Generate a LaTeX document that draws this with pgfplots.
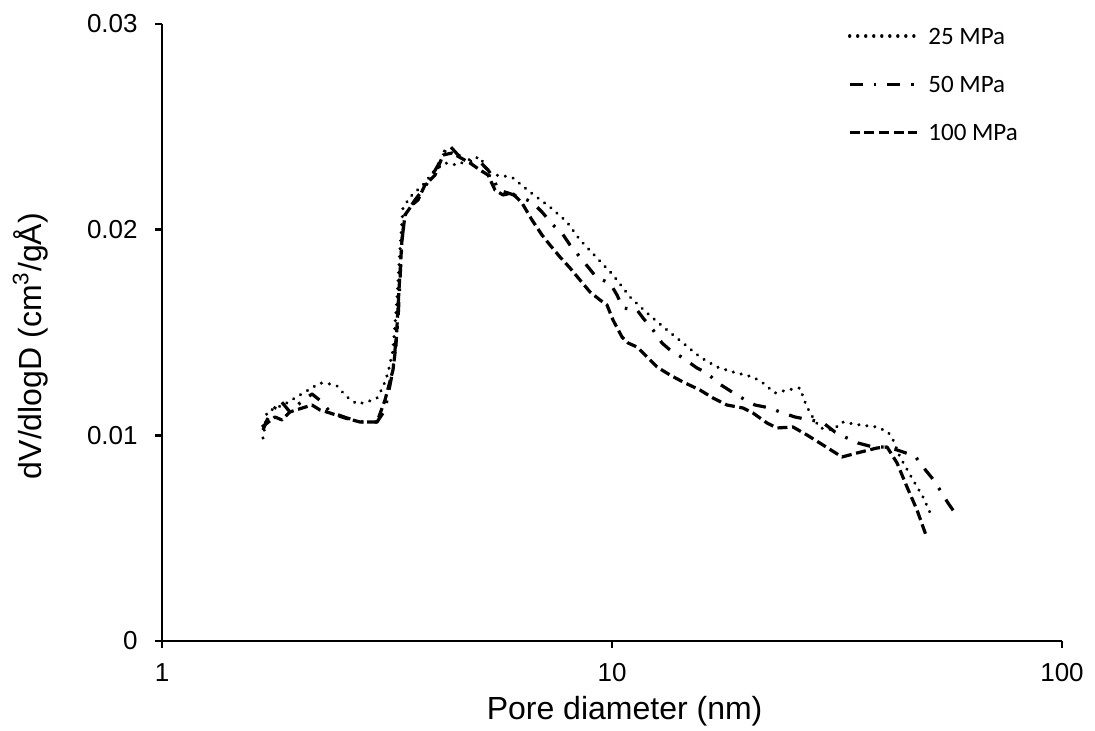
\documentclass[border=0pt]{standalone}
\usepackage{fontspec}
\setmainfont{Liberation Sans}
\newfontfamily\calibri{Carlito}
\usepackage{pgfplots}
\usepackage{pgfplotstable}
\pgfplotsset{compat=1.18}

\pgfplotstableread{
d v
1.6767 0.009870
1.7113 0.011135
1.8764 0.011524
2.0261 0.011961
2.2444 0.012545
2.3623 0.012496
2.4484 0.012399
2.5771 0.011864
2.7126 0.011524
2.8547 0.011621
3.0047 0.011815
3.0983 0.012350
3.1785 0.013031
3.2609 0.014149
3.3282 0.016580
3.3797 0.019011
3.4320 0.021053
3.5572 0.021588
3.8019 0.022172
4.0437 0.022901
4.2563 0.023241
4.5259 0.023144
4.7863 0.023387
5.0897 0.023533
5.2481 0.022998
5.3566 0.022609
5.6380 0.022658
6.0256 0.022512
6.5733 0.021831
7.2817 0.021102
7.9433 0.020373
8.4885 0.019498
9.2612 0.018622
10.051 0.017796
10.965 0.016726
11.962 0.015948
13.250 0.015122
14.382 0.014490
15.686 0.013809
17.113 0.013323
18.572 0.013079
20.573 0.012836
21.654 0.012545
23.025 0.012058
24.484 0.012204
26.165 0.012302
26.844 0.011621
27.542 0.011086
28.987 0.010357
30.983 0.010259
32.442 0.010648
35.584 0.010502
38.805 0.010405
41.064 0.010162
42.130 0.009773
43.652 0.008947
46.655 0.007828
49.104 0.007002
51.416 0.006029
}\tabA

\pgfplotstableread{
d v
1.6767 0.010259
1.7113 0.010746
1.8290 0.011718
1.9250 0.011135
2.0261 0.011572
2.1544 0.012010
2.2675 0.011621
2.3623 0.011135
2.5771 0.010843
2.7969 0.010648
3.0047 0.010648
3.1302 0.011232
3.2609 0.013177
3.3453 0.015608
3.4145 0.019498
3.4674 0.020713
3.6495 0.021442
3.8410 0.022074
4.0853 0.023047
4.1915 0.023533
4.3222 0.024165
4.5491 0.023630
4.8355 0.023290
5.0379 0.023387
5.3021 0.022901
5.4396 0.022561
5.5806 0.021929
5.8737 0.021783
6.2451 0.021588
6.6409 0.021345
6.9894 0.020859
7.3944 0.020227
7.7426 0.019838
8.0662 0.019254
8.4885 0.018671
8.8463 0.018185
9.2612 0.017650
9.8982 0.017407
10.259 0.016823
10.579 0.016191
11.365 0.016094
11.719 0.015705
12.336 0.015122
12.915 0.014490
13.455 0.014149
14.382 0.013760
15.447 0.013274
16.257 0.013031
17.200 0.012545
18.478 0.012107
19.448 0.011815
20.785 0.011475
22.444 0.011329
23.622 0.011135
25.508 0.010891
27.542 0.010746
29.286 0.010648
31.302 0.010162
33.282 0.009870
35.214 0.009627
38.019 0.009433
40.853 0.009433
42.999 0.009287
47.135 0.008995
49.104 0.008460
51.416 0.007925
53.566 0.007342
55.803 0.006710
57.838 0.006224
}\tabB

\pgfplotstableread{
d v
1.6681 0.010405
1.7828 0.010891
1.8478 0.010746
1.9250 0.011135
1.9850 0.011232
2.1544 0.011475
2.2444 0.011232
2.3623 0.011086
2.5508 0.010843
2.7542 0.010648
3.0047 0.010648
3.1302 0.011718
3.2609 0.013177
3.3113 0.014392
3.3625 0.017066
3.4145 0.019498
3.4674 0.020713
3.5938 0.021199
3.7060 0.021442
3.8410 0.022172
4.0437 0.022658
4.2130 0.023630
4.4116 0.023728
4.8355 0.023241
5.0897 0.022901
5.3021 0.022658
5.4954 0.021929
5.7253 0.021686
5.9948 0.021783
6.3096 0.021297
6.6409 0.020470
6.9894 0.019741
7.2817 0.019254
7.6638 0.018671
8.0662 0.018136
8.4885 0.017553
8.9371 0.016969
9.4044 0.016580
9.7474 0.016337
10.051 0.015608
10.525 0.014781
10.853 0.014490
11.365 0.014295
11.962 0.013809
12.589 0.013323
13.455 0.012934
14.382 0.012593
15.686 0.012204
16.764 0.011815
18.011 0.011475
19.548 0.011329
20.573 0.011086
22.102 0.010600
23.263 0.010357
25.248 0.010405
27.120 0.010016
29.436 0.009530
32.442 0.008947
35.034 0.009141
38.805 0.009384
40.853 0.009433
42.999 0.008655
45.242 0.007488
47.620 0.006371
50.119 0.005008
}\tabC

\begin{document}
\begin{tikzpicture}
\begin{axis}[
  scale only axis, width=450pt, height=308.5pt,
  at={(0,0)}, anchor=south west,
  xmode=log, xmin=1, xmax=100, ymin=0, ymax=0.03,
  axis lines=left,
  axis line style={-, line width=1.2pt, black},
  xtick={1,10,100}, xticklabels={1,10,100},
  ytick={0,0.01,0.02,0.03}, yticklabels={0,0.01,0.02,0.03},
  scaled y ticks=false, scaled x ticks=false,
  xminorticks=false, yminorticks=false,
  tick align=outside, major tick length=3.5pt,
  major tick style={line width=1.2pt, black},
  /pgf/number format/assume math mode=true,
  ticklabel style={font=\fontsize{13}{15}\selectfont, inner sep=0pt},
  xticklabel style={anchor=base, yshift=-17pt},
  yticklabel style={anchor=east, xshift=-8.5pt},
  xlabel={Pore diameter (nm)},
  ylabel={dV/dlogD (cm\textsuperscript{3}/gÅ)},
  label style={font=\fontsize{16}{19}\selectfont},
  xlabel style={at={(axis description cs:0.514,-0.128)}, anchor=base},
  ylabel style={at={(axis description cs:-0.1344,0.478)}, anchor=base},
  clip=false,
  legend cell align=left,
  legend image code/.code={\draw[#1] (0pt,0pt) -- (33.5pt,0pt);},
  legend style={draw=none, fill=none, inner sep=0pt, outer sep=0pt,
    at={(0.7622,1.003)}, anchor=north west, row sep=10pt, column sep=5pt,
    font=\calibri\fontsize{12.5}{15}\selectfont,
    nodes={inner sep=0pt, text height=11pt, text depth=3pt}},
]
\addplot[black, line width=1.7pt, line cap=round, line join=round, dash pattern=on 0.01pt off 4pt] table[x=d,y=v] {\tabA};
\addplot[black, line width=1.6pt, line join=round, dash pattern=on 6.5pt off 5.5pt on 1.3pt off 5.5pt] table[x=d,y=v] {\tabB};
\addplot[black, line width=1.6pt, line join=round, dash pattern=on 5pt off 2.3pt] table[x=d,y=v] {\tabC};
\legend{25 MPa, 50 MPa, 100 MPa}
\end{axis}
\pgfresetboundingbox
\path[use as bounding box] (-81pt,-45pt) rectangle (466.5pt,320.5pt);
\end{tikzpicture}
\end{document}
